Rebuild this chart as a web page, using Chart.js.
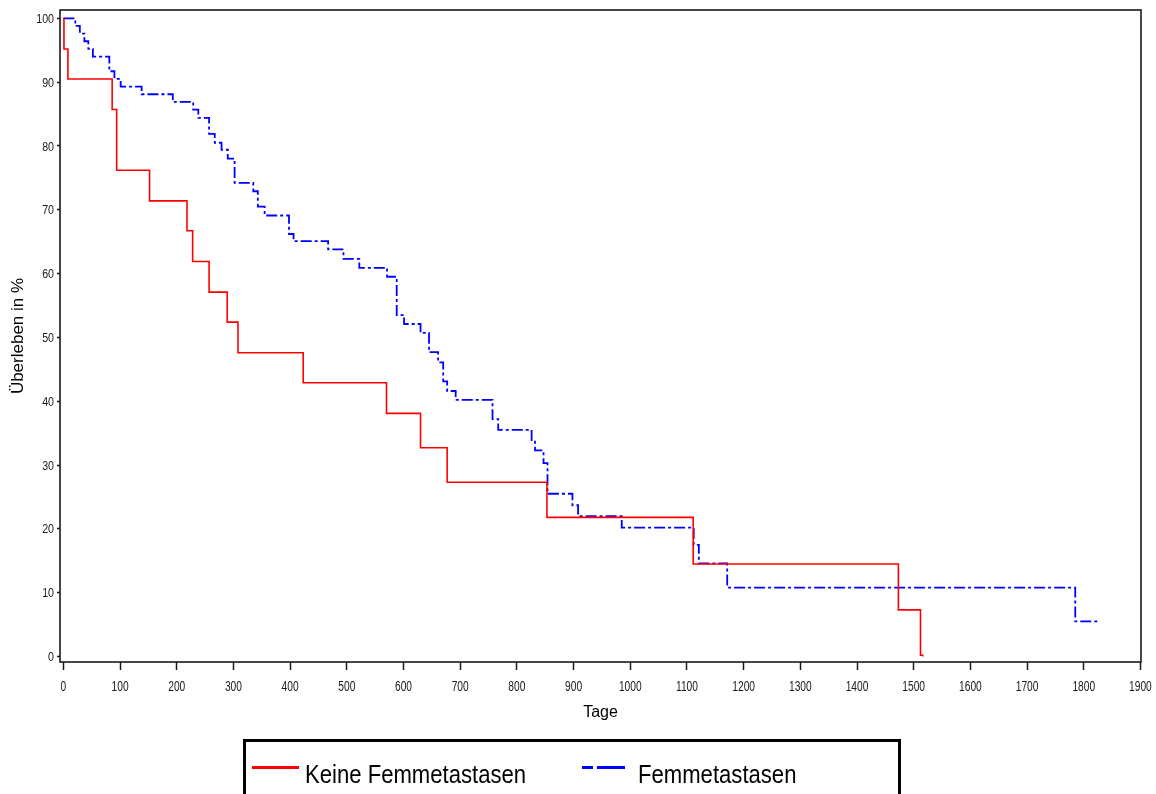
<!DOCTYPE html>
<html><head><meta charset="utf-8">
<script src="https://cdn.jsdelivr.net/npm/chart.js@4.4.1/dist/chart.umd.min.js"></script>
<style>html,body{margin:0;padding:0;background:#fff;overflow:hidden}canvas{display:block}</style>
</head><body>
<canvas id="c" width="1156" height="794"></canvas>
<script>
const xTickValues = [0,100,200,300,400,500,600,700,800,900,1000,1100,1200,1300,1400,1500,1600,1700,1800,1900];
const yTickValues = [0,10,20,30,40,50,60,70,80,90,100];
const seriesNames = ['Keine Femmetastasen', 'Femmetastasen'];
const xTitle = 'Tage';
const yTitle = 'Überleben in %';

const redDays =     [0, 1, 8, 86, 94, 152, 218, 228, 257, 289, 308, 423, 570, 630, 677, 853, 1111, 1473, 1512, 1516];
const redSurvival = [100, 95.2, 90.5, 85.7, 76.2, 71.4, 66.7, 61.9, 57.1, 52.4, 47.6, 42.9, 38.1, 32.7, 27.3, 21.8, 14.5, 7.3, 0.2, 0];

const blueDays =     [0, 21, 29, 37, 44, 52, 81, 90, 101, 138, 193, 229, 238, 257, 267, 279, 290, 302, 335, 343, 355, 398, 406, 467, 494, 522, 571, 588, 601, 630, 645, 661, 670, 677, 692, 757, 767, 826, 832, 847, 854, 898, 908, 985, 1112, 1121, 1171, 1785, 1827];
const blueSurvival = [100, 98.8, 97.6, 96.4, 95.2, 94.0, 91.7, 90.5, 89.3, 88.1, 86.9, 85.7, 84.4, 81.9, 80.5, 79.4, 78.0, 74.2, 72.9, 70.5, 69.1, 66.2, 65.1, 63.8, 62.3, 60.9, 59.5, 53.5, 52.1, 50.7, 47.7, 46.1, 43.1, 41.6, 40.2, 37.2, 35.5, 33.9, 32.3, 30.3, 25.5, 23.7, 22.0, 20.2, 17.5, 14.6, 10.8, 5.5, 5.5];

const toPoints = (xs, ys) => xs.map((x, i) => ({x: x, y: ys[i]}));
const FONT = '"Liberation Sans", Arial, sans-serif';

function condensedText(ctx, text, x, y, sx, align, baseline) {
  ctx.save();
  ctx.translate(x, y);
  ctx.scale(sx, 1);
  ctx.textAlign = align;
  ctx.textBaseline = baseline;
  ctx.fillText(text, 0, 0);
  ctx.restore();
}

const frameLegendPlugin = {
  id: 'frameLegend',
  afterDatasetsDraw(chart) {
    const {ctx, chartArea: a} = chart;
    ctx.save();
    ctx.strokeStyle = '#1a1a1a';
    ctx.lineWidth = 1.6;
    ctx.setLineDash([]);
    ctx.strokeRect(a.left, a.top, a.right - a.left, a.bottom - a.top);
    ctx.restore();
  },
  afterDraw(chart) {
    const ctx = chart.ctx;
    const xs = chart.scales.x, ys = chart.scales.y;
    ctx.save();
    ctx.fillStyle = '#1a1a1a';
    ctx.font = '14px ' + FONT;
    xTickValues.forEach(v => {
      condensedText(ctx, String(v), xs.getPixelForValue(v), 690.5, 0.73, 'center', 'alphabetic');
    });
    ctx.font = '13px ' + FONT;
    yTickValues.forEach(v => {
      condensedText(ctx, String(v), 54, ys.getPixelForValue(v) + 4.6, 0.82, 'right', 'alphabetic');
    });
    ctx.restore();

    const ds = chart.data.datasets;
    ctx.save();
    ctx.strokeStyle = '#000';
    ctx.lineWidth = 3;
    ctx.setLineDash([]);
    ctx.strokeRect(244.5, 740.5, 655, 80);
    const items = [
      {x0: 252, x1: 299, tx: 305, dash: []},
      {x0: 582, x1: 627, tx: 638, dash: [11, 4, 28, 4]}
    ];
    items.forEach((it, i) => {
      ctx.beginPath();
      ctx.strokeStyle = ds[i].borderColor;
      ctx.lineWidth = 3;
      ctx.setLineDash(it.dash);
      ctx.moveTo(it.x0, 767.5);
      ctx.lineTo(it.x1, 767.5);
      ctx.stroke();
      ctx.setLineDash([]);
      ctx.fillStyle = '#000';
      ctx.font = '26px ' + FONT;
      condensedText(ctx, ds[i].label, it.tx, 783, 0.85, 'left', 'alphabetic');
    });
    ctx.restore();
  }
};

new Chart(document.getElementById('c'), {
  type: 'line',
  data: {
    datasets: [
      {
        label: seriesNames[0],
        data: toPoints(redDays, redSurvival),
        borderColor: '#ff0000',
        borderWidth: 1.6,
        stepped: 'before',
        pointRadius: 0,
        fill: false
      },
      {
        label: seriesNames[1],
        data: toPoints(blueDays, blueSurvival),
        borderColor: '#0000ff',
        borderWidth: 1.8,
        borderDash: [11, 3, 3, 3],
        stepped: 'before',
        pointRadius: 0,
        fill: false
      }
    ]
  },
  options: {
    responsive: false,
    animation: false,
    devicePixelRatio: 1,
    layout: {padding: {top: 10, right: 15, left: 0, bottom: 0}},
    plugins: {legend: {display: false}, tooltip: {enabled: false}},
    scales: {
      x: {
        type: 'linear',
        min: -6,
        max: 1901,
        afterBuildTicks: s => { s.ticks = xTickValues.map(v => ({value: v})); },
        afterFit: s => { s.height = 132; s.paddingLeft = 0; s.paddingRight = 0; },
        grid: {drawOnChartArea: false, drawTicks: true, tickLength: 8, tickColor: '#1a1a1a', tickWidth: 1.5},
        border: {display: false},
        ticks: {display: false, autoSkip: false},
        title: {
          display: true,
          text: xTitle,
          color: '#000',
          font: {family: FONT, size: 16},
          padding: {top: 0, bottom: 72}
        }
      },
      y: {
        type: 'linear',
        min: -0.86,
        max: 101.3,
        afterBuildTicks: s => { s.ticks = yTickValues.map(v => ({value: v})); },
        afterFit: s => { s.width = 60; s.paddingTop = 0; s.paddingBottom = 0; },
        grid: {drawOnChartArea: false, drawTicks: true, tickLength: 3, tickColor: '#1a1a1a', tickWidth: 1.5},
        border: {display: false},
        ticks: {display: false, autoSkip: false},
        title: {
          display: true,
          text: yTitle,
          color: '#000',
          font: {family: FONT, size: 17},
          padding: {top: 8, bottom: 0}
        }
      }
    }
  },
  plugins: [frameLegendPlugin]
});
</script>
</body></html>
